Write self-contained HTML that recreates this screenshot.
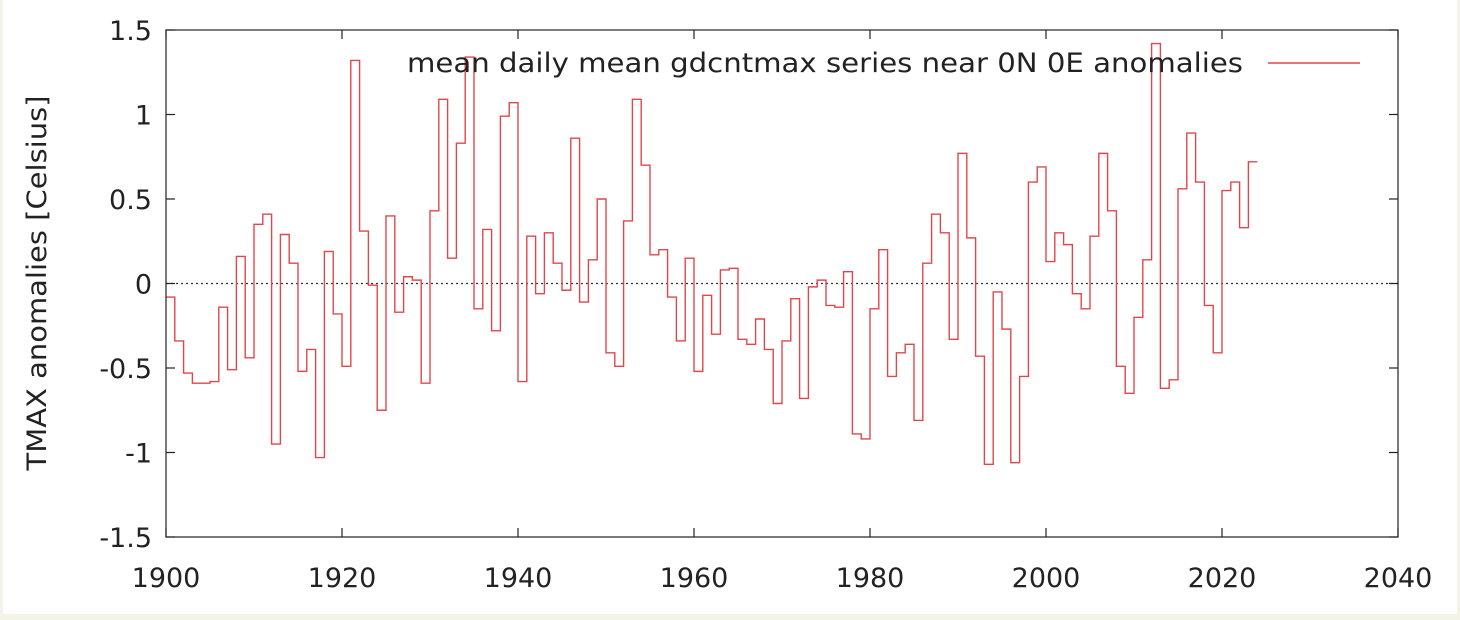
<!DOCTYPE html>
<html><head><meta charset="utf-8"><style>
html,body{margin:0;padding:0;background:#f3f3e8;}
svg{display:block;}
text{font-family:"DejaVu Sans","Liberation Sans",sans-serif;font-size:27px;fill:#222;}
</style></head><body>
<svg id="chart" width="1460" height="620" xmlns="http://www.w3.org/2000/svg">
<rect x="3" y="0" width="1454" height="614" fill="#fff"/>
<g id="grid"></g>
<path id="series" fill="none" stroke="#e0474c" stroke-width="1.4"/>
<rect x="166" y="30" width="1232" height="507" fill="none" stroke="#222" stroke-width="1.2"/>
<text x="46" y="283" text-anchor="middle" textLength="375" lengthAdjust="spacingAndGlyphs" transform="rotate(-90 46 283)">TMAX anomalies [Celsius]</text>
<text x="407" y="72" textLength="836" lengthAdjust="spacingAndGlyphs">mean daily mean gdcntmax series near 0N 0E anomalies</text>
<line x1="1268" y1="63" x2="1360" y2="63" stroke="#e0474c" stroke-width="1.4"/>
</svg>
<script>
const startYear = 1900;
const values = [-0.08,-0.34,-0.53,-0.59,-0.59,-0.58,-0.14,-0.51,0.16,-0.44,
0.35,0.41,-0.95,0.29,0.12,-0.52,-0.39,-1.03,0.19,-0.18,
-0.49,1.32,0.31,-0.01,-0.75,0.40,-0.17,0.04,0.02,-0.59,
0.43,1.09,0.15,0.83,1.34,-0.15,0.32,-0.28,0.99,1.07,
-0.58,0.28,-0.06,0.30,0.12,-0.04,0.86,-0.11,0.14,0.50,
-0.41,-0.49,0.37,1.09,0.70,0.17,0.20,-0.08,-0.34,0.15,
-0.52,-0.07,-0.30,0.08,0.09,-0.33,-0.36,-0.21,-0.39,-0.71,
-0.34,-0.09,-0.68,-0.02,0.02,-0.13,-0.14,0.07,-0.89,-0.92,
-0.15,0.20,-0.55,-0.41,-0.36,-0.81,0.12,0.41,0.30,-0.33,
0.77,0.27,-0.43,-1.07,-0.05,-0.27,-1.06,-0.55,0.60,0.69,
0.13,0.30,0.23,-0.06,-0.15,0.28,0.77,0.43,-0.49,-0.65,
-0.20,0.14,1.42,-0.62,-0.57,0.56,0.89,0.60,-0.13,-0.41,
0.55,0.60,0.33,0.72];
const xTicks = [1900,1920,1940,1960,1980,2000,2020,2040];
const yTicks = [-1.5,-1,-0.5,0,0.5,1,1.5];
const yTickLabels = ["-1.5","-1","-0.5","0","0.5","1","1.5"];

const X0=166,X1=1398,Y0=537,Y1=30;
const xs = v => X0 + (v-1900)/(2040-1900)*(X1-X0);
const ys = v => Y0 - (v+1.5)/3*(Y0-Y1);
const NS="http://www.w3.org/2000/svg";
const svg=document.getElementById('chart');
const grid=document.getElementById('grid');
function mk(tag,attrs,parent){const e=document.createElementNS(NS,tag);for(const k in attrs)e.setAttribute(k,attrs[k]);(parent||svg).appendChild(e);return e;}

const zl=mk('line',{x1:X0,x2:X1,y1:ys(0),y2:ys(0),stroke:'#333','stroke-width':1.2,'stroke-dasharray':'2,3'},grid);



xTicks.forEach(t=>{
  const x=xs(t);
  const a=mk('line',{x1:x,x2:x,y1:Y0,y2:Y0-9,stroke:'#222','stroke-width':1.2});
  
  
  const b=mk('line',{x1:x,x2:x,y1:Y1,y2:Y1+9,stroke:'#222','stroke-width':1.2});
  
  
  const l=mk('text',{x:x,y:587,'text-anchor':'middle'});
  l.textContent=String(t);
  
  
});
yTicks.forEach((t,i)=>{
  const y=ys(t);
  const a=mk('line',{x1:X0,x2:X0+9,y1:y,y2:y,stroke:'#222','stroke-width':1.2});
  
  
  const b=mk('line',{x1:X1,x2:X1-9,y1:y,y2:y,stroke:'#222','stroke-width':1.2});
  
  
  const l=mk('text',{x:152,y:y+10,'text-anchor':'end'});
  l.textContent=yTickLabels[i];
  
  
});

let d='';
values.forEach((v,i)=>{
  const xa=xs(startYear+i), xb=xs(startYear+i+1), y=ys(v);
  d += (i===0?'M':'L')+xa+','+y+' L'+xb+','+y+' ';
});
document.getElementById('series').setAttribute('d',d);
</script>
</body></html>
